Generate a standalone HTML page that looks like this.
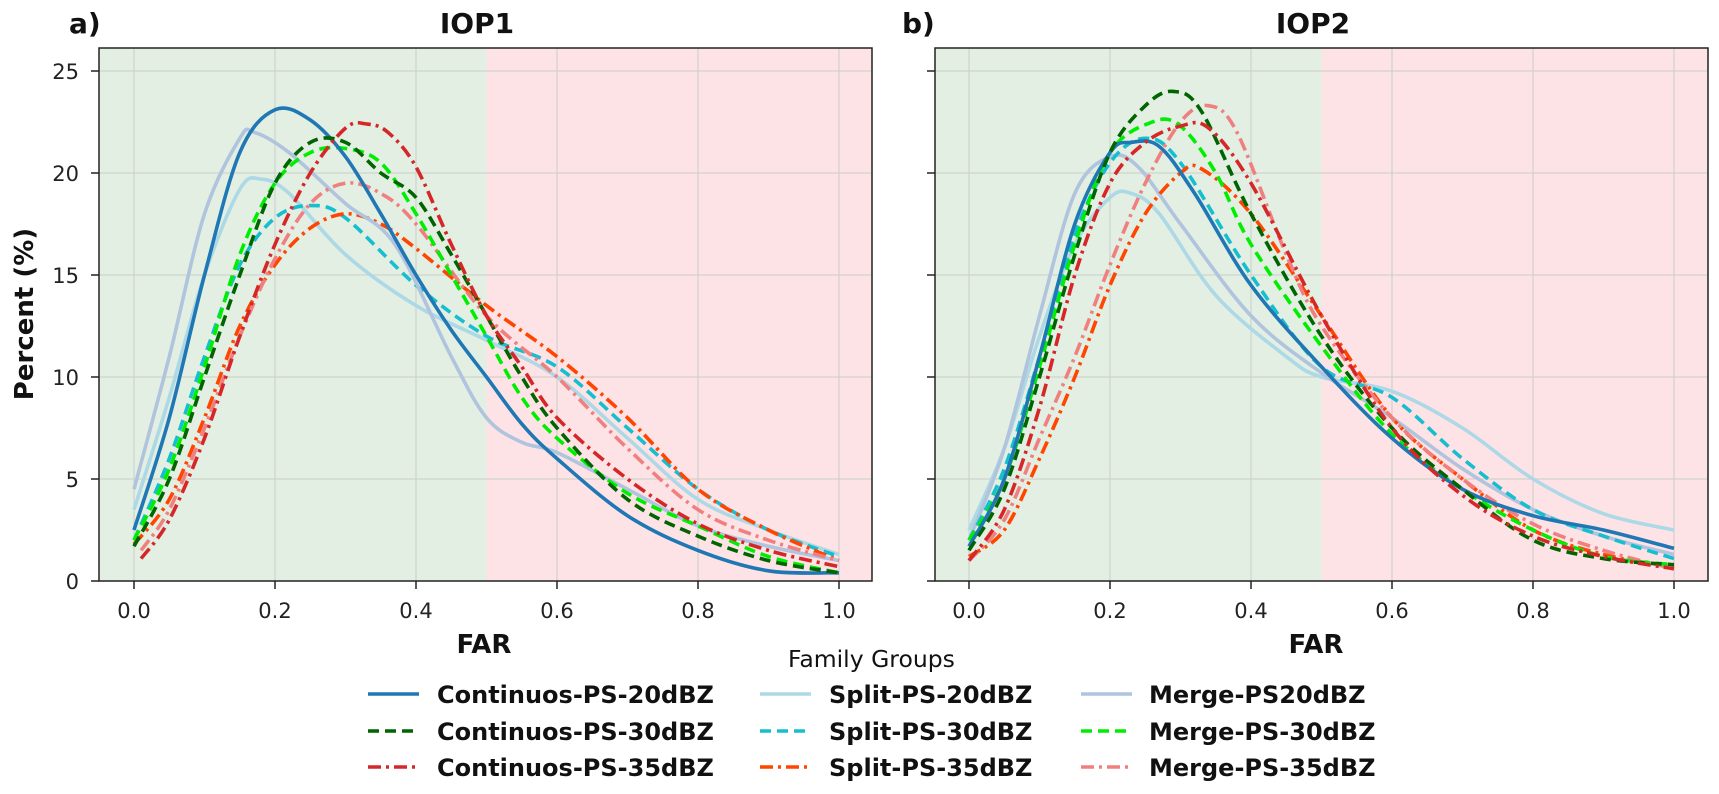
<!DOCTYPE html>
<html><head><meta charset="utf-8"><style>
body{margin:0;background:#fff}
svg text{font-family:"DejaVu Sans","Liberation Sans",sans-serif}
</style></head><body>
<svg id="s" width="1719" height="789" xmlns="http://www.w3.org/2000/svg">
<g fill="#111">
<text x="69" y="33" font-weight="bold" font-size="28">a)</text>
<text x="477" y="33" font-weight="bold" font-size="28" text-anchor="middle">IOP1</text>
<text x="902" y="33" font-weight="bold" font-size="28">b)</text>
<text x="1313" y="33" font-weight="bold" font-size="28" text-anchor="middle">IOP2</text>
<text transform="translate(33,314) rotate(-90)" font-weight="bold" font-size="26" text-anchor="middle">Percent (%)</text>
<text x="484" y="653" font-weight="bold" font-size="26" text-anchor="middle">FAR</text>
<text x="1316" y="653" font-weight="bold" font-size="26" text-anchor="middle">FAR</text>
<text x="788" y="667" font-size="23.5">Family Groups</text>
</g>
<g id="plots"></g>
<g id="leg" font-weight="bold" font-size="24" fill="#111"></g>
</svg>
<script>
const NS="http://www.w3.org/2000/svg";
function el(p,t,a,txt){const e=document.createElementNS(NS,t);for(const k in a)e.setAttribute(k,a[k]);if(txt!==undefined)e.textContent=txt;p.appendChild(e);return e;}
const st={
c20:["#1f77b4",""],c30:["#006400","11,6"],c35:["#d62728","13,5,3,5"],
s20:["#add8e6",""],s30:["#17becf","11,6"],s35:["#ff4500","13,5,3,5"],
m20:["#b0c4de",""],m30:["#00ee00","11,6"],m35:["#f08080","13,5,3,5"]};
const L={
s20:[[0,3.5],[.05,9],[.1,15],[.15,19.2],[.18,19.7],[.22,19],[.3,16],[.4,13.5],[.5,11.8],[.6,10],[.7,7],[.8,4],[.9,2.5],[1,1.3]],
s30:[[0,2],[.05,6],[.1,11],[.15,15.5],[.2,17.8],[.25,18.4],[.3,17.8],[.4,14.5],[.5,12],[.6,10.5],[.7,7.5],[.8,4.5],[.9,2.5],[1,1.2]],
s35:[[0,1.8],[.05,4],[.1,8],[.15,12.5],[.2,15.5],[.25,17.3],[.3,18],[.35,17.5],[.4,16.3],[.5,13.5],[.6,11],[.7,8],[.8,4.5],[.9,2.5],[1,1]],
m20:[[0,4.5],[.05,11],[.1,18],[.15,21.7],[.17,22],[.22,21],[.3,18.5],[.37,16.5],[.45,11],[.5,8],[.55,6.8],[.6,6.3],[.7,4.5],[.8,2.7],[.9,1.7],[1,1]],
m35:[[.01,1.5],[.05,3.5],[.1,7.5],[.15,12],[.2,15.8],[.25,18.5],[.3,19.5],[.35,19],[.4,17.5],[.5,13],[.6,10],[.7,6.5],[.8,3.5],[.9,2],[1,1]],
m30:[[0,2],[.05,5.5],[.1,10.5],[.15,16],[.2,19.5],[.25,21],[.3,21.2],[.35,20.5],[.4,18],[.45,15],[.5,12],[.55,9],[.6,7],[.7,4.3],[.8,2.7],[.9,1.2],[1,.4]],
c20:[[0,2.5],[.05,8],[.1,15],[.15,21],[.2,23.1],[.25,22.6],[.3,20.8],[.35,18],[.4,15],[.45,12.3],[.5,10],[.55,7.7],[.6,6],[.7,3.2],[.8,1.5],[.9,.5],[1,.4]],
c30:[[0,1.7],[.05,5],[.1,10],[.15,15],[.2,19.5],[.25,21.5],[.3,21.5],[.35,20],[.4,18.8],[.45,16],[.5,13],[.55,10],[.6,7.5],[.7,4],[.8,2.2],[.9,1],[1,.4]],
c35:[[.01,1.1],[.05,3],[.1,7],[.15,12],[.2,16.5],[.25,20],[.3,22.2],[.33,22.4],[.36,22],[.4,20.3],[.45,16.5],[.5,13],[.55,10.5],[.6,8],[.7,5],[.8,2.8],[.9,1.5],[1,.7]]};
const R={
s20:[[0,2.5],[.05,6.5],[.1,12],[.15,16.5],[.2,18.8],[.23,19],[.27,18],[.35,14],[.45,11],[.5,10],[.6,9.3],[.7,7.5],[.8,5],[.9,3.3],[1,2.5]],
m20:[[0,2],[.05,6.5],[.1,13],[.15,19],[.2,20.8],[.24,20.3],[.3,17.5],[.4,13],[.5,10.2],[.6,8],[.7,5.5],[.8,3.5],[.9,2.2],[1,1.3]],
s30:[[0,2],[.05,5.5],[.1,11],[.15,17],[.2,20.5],[.25,21.7],[.3,20.5],[.4,15],[.5,10.5],[.6,9],[.7,6],[.8,3.5],[.9,2.2],[1,1.1]],
s35:[[0,1.2],[.05,2.5],[.1,6],[.15,10],[.2,14.5],[.25,18],[.3,20],[.33,20.2],[.4,18],[.5,13],[.6,8],[.7,5],[.8,2.5],[.9,1.3],[1,.7]],
m35:[[0,1],[.05,3],[.1,7],[.15,11],[.2,15.5],[.25,19.5],[.3,22.5],[.34,23.3],[.38,22],[.45,16],[.5,12.5],[.6,8],[.7,5],[.8,2.8],[.9,1.5],[1,.6]],
m30:[[0,2],[.05,5],[.1,10.5],[.15,16.5],[.2,21],[.26,22.5],[.3,22.3],[.35,20],[.4,16.5],[.5,11.5],[.6,7.2],[.7,4.5],[.8,2.5],[.9,1.2],[1,.8]],
c20:[[0,1.7],[.05,5],[.1,11],[.15,17.5],[.2,21],[.23,21.5],[.27,21.3],[.32,19],[.4,14.5],[.5,10.5],[.6,7],[.7,4.5],[.8,3.2],[.9,2.5],[1,1.6]],
c30:[[0,1.5],[.05,4.5],[.1,10],[.15,16],[.2,21],[.25,23.3],[.29,24],[.33,23],[.4,18],[.5,12],[.6,7.5],[.7,4.5],[.8,2],[.9,1.1],[1,.8]],
c35:[[0,1],[.05,3.5],[.1,8.5],[.15,15],[.2,19.5],[.25,21.5],[.3,22.3],[.34,22.2],[.4,19.5],[.5,13],[.6,7.5],[.7,4.2],[.8,2.2],[.9,1.2],[1,.6]]};
function path(pts){let d="M"+pts[0][0]+","+pts[0][1];for(let i=0;i<pts.length-1;i++){const p0=pts[i-1]||pts[i],p1=pts[i],p2=pts[i+1],p3=pts[i+2]||p2;
d+=" C"+(p1[0]+(p2[0]-p0[0])/6)+","+(p1[1]+(p2[1]-p0[1])/6)+" "+(p2[0]-(p3[0]-p1[0])/6)+","+(p2[1]-(p3[1]-p1[1])/6)+" "+p2[0]+","+p2[1];}return d;}
const G=document.getElementById("plots");
function panel(fl,fr,x0,data,labels){
 const top=48,bot=581,sx=v=>x0+v*705,sy=v=>581-v*20.4;
 el(G,"rect",{x:fl,y:top,width:sx(.5)-fl,height:bot-top,fill:"#e3efe3"});
 el(G,"rect",{x:sx(.5),y:top,width:fr-sx(.5),height:bot-top,fill:"#fde3e5"});
 for(let i=0;i<=5;i++){const x=sx(i*.2);el(G,"line",{x1:x,x2:x,y1:top,y2:bot,stroke:"#c8cfc8","stroke-width":1});
  el(G,"line",{x1:x,x2:x,y1:bot,y2:bot+8,stroke:"#222","stroke-width":1.5});
  el(G,"text",{x:x,y:618,"font-size":21,"text-anchor":"middle",fill:"#222"},(i*.2).toFixed(1));}
 for(let j=0;j<=5;j++){const y=sy(j*5);el(G,"line",{x1:fl,x2:fr,y1:y,y2:y,stroke:"#c8cfc8","stroke-width":1});
  el(G,"line",{x1:fl-8,x2:fl,y1:y,y2:y,stroke:"#222","stroke-width":1.5});
  if(labels)el(G,"text",{x:fl-20,y:y+8,"font-size":21,"text-anchor":"end",fill:"#222"},String(j*5));}
 for(const k in data){const pts=data[k].map(p=>[sx(p[0]).toFixed(1),sy(p[1]).toFixed(1)].map(Number));
  const a={d:path(pts),fill:"none",stroke:st[k][0],"stroke-width":3.6,"stroke-linecap":"butt"};if(st[k][1])a["stroke-dasharray"]=st[k][1];el(G,"path",a);}
 el(G,"rect",{x:fl,y:top,width:fr-fl,height:bot-top,fill:"none",stroke:"#222","stroke-width":1.5});
}
panel(99,872,134,L,true);
panel(935,1708,969,R,false);
const LG=document.getElementById("leg");
const cols=[[368,437,["c20","Continuos-PS-20dBZ"],["c30","Continuos-PS-30dBZ"],["c35","Continuos-PS-35dBZ"]],
[760,829,["s20","Split-PS-20dBZ"],["s30","Split-PS-30dBZ"],["s35","Split-PS-35dBZ"]],
[1081,1149,["m20","Merge-PS20dBZ"],["m30","Merge-PS-30dBZ"],["m35","Merge-PS-35dBZ"]]];
const ys=[703,740,776];
cols.forEach(c=>{for(let i=0;i<3;i++){const [k,t]=c[2+i];const a={x1:c[0],x2:c[0]+51,y1:ys[i]-9,y2:ys[i]-9,stroke:st[k][0],"stroke-width":3.6};if(st[k][1])a["stroke-dasharray"]=st[k][1];el(LG,"line",a);el(LG,"text",{x:c[1],y:ys[i]},t);}});
</script>
</body></html>
